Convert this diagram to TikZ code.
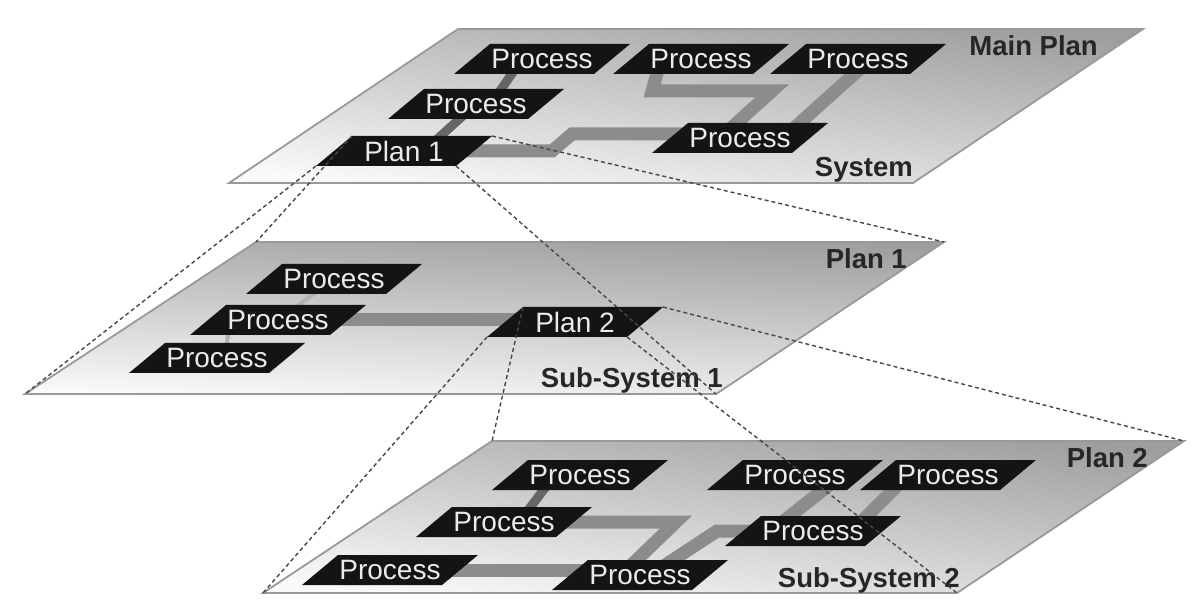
\documentclass[tikz,border=0pt]{standalone}
\usepackage{fontspec}
\setmainfont{Liberation Sans}
\usetikzlibrary{calc}
\pgfdeclarelayer{planes}
\pgfdeclarelayer{bars}
\pgfsetlayers{planes,bars,main}

\tikzset{
  plane/.style={draw=black!40, line width=1.8pt, line join=miter,
    top color=black!38, bottom color=black!2},
  bar/.style={draw=black!45, line width=13pt, line join=miter},
  link/.style={draw=black!60, line width=9pt},
  thinlink/.style={draw=black!30, line width=4pt},
  blk/.style={fill=black!92},
  blktext/.style={text=black!8, font=\fontsize{28}{30}\selectfont, inner sep=0pt},
  lvl/.style={text=black!85, font=\fontsize{27.5}{30}\selectfont\bfseries, inner sep=0pt},
  proj/.style={draw=black!72, line width=1.4pt, dash pattern=on 4pt off 3pt},
}

% a black slanted box with its label; corners are kept as named coordinates
\newcommand\procbox[4]{%
  \coordinate (#1tl) at ({#2-52},{#3-15});
  \coordinate (#1tr) at ({#2+88},{#3-15});
  \coordinate (#1br) at ({#2+52},{#3+15});
  \coordinate (#1bl) at ({#2-88},{#3+15});
  \fill[blk] (#1bl) -- (#1br) -- (#1tr) -- (#1tl) -- cycle;
  \node[blktext] (#1) at (#2,#3) {#4};
}

\begin{document}
\begin{tikzpicture}[x=1pt,y=-1pt]
\useasboundingbox (0,0) rectangle (1203,612);

% ---- the three planes
\begin{pgfonlayer}{planes}
  \fill[white] (0,0) rectangle (1203,612);
  \coordinate (Ptl) at (458,29);  \coordinate (Ptr) at (1143,29);
  \coordinate (Pbr) at (913,183); \coordinate (Pbl) at (229,183);
  \path[plane, shading angle=-7] (Ptl) -- (Ptr) -- (Pbr) -- (Pbl) -- cycle;
  \coordinate (Mtl) at (256,242); \coordinate (Mtr) at (944,242);
  \coordinate (Mbr) at (716,394); \coordinate (Mbl) at (25,394);
  \path[plane, shading angle=-3] (Mtl) -- (Mtr) -- (Mbr) -- (Mbl) -- cycle;
  \coordinate (Btl) at (492,441); \coordinate (Btr) at (1184,441);
  \coordinate (Bbr) at (957,593); \coordinate (Bbl) at (263,593);
  \path[plane, shading angle=-7] (Btl) -- (Btr) -- (Bbr) -- (Bbl) -- cycle;
\end{pgfonlayer}

% ---- system
\procbox{T1}{542}{59}{Process}
\procbox{T2}{701}{59}{Process}
\procbox{T3}{858}{59}{Process}
\procbox{T4}{476}{104}{Process}
\procbox{T5}{404}{151}{Plan 1}
\procbox{T6}{740}{138}{Process}
\node[lvl, anchor=base east] (mainplan) at (1098,56) {Main Plan};
\node[lvl, anchor=base east] (system) at (913,177) {System};

% ---- sub-system 1
\procbox{M1}{334}{279}{Process}
\procbox{M2}{278}{320}{Process}
\procbox{M3}{217}{358}{Process}
\procbox{M4}{575}{322}{Plan 2}
\node[lvl, anchor=base east] (plan1) at (907,269) {Plan 1};
\node[lvl, anchor=base east] (subsys1) at (723,388) {Sub-System 1};

% ---- sub-system 2
\procbox{B1}{580}{475}{Process}
\procbox{B2}{504}{522}{Process}
\procbox{B3}{390}{570}{Process}
\procbox{B4}{640}{575}{Process}
\procbox{B5}{795}{475}{Process}
\procbox{B6}{948}{475}{Process}
\procbox{B7}{813}{531}{Process}
\node[lvl, anchor=base east] (plan2) at (1148,467) {Plan 2};
\node[lvl, anchor=base east] (subsys2) at (960,587) {Sub-System 2};

% ---- flows between the boxes
\begin{pgfonlayer}{bars}
  \draw[link] ([xshift=-20pt]T1.center) -- ([xshift=15pt]T4.center);
  \draw[link] (T4.center) -- ([xshift=20pt]T5.center);
  \coordinate (a1) at (552,150);
  \coordinate (a2) at (572,134);
  \draw[bar] (T5.center) -- (T5.center -| a1) -- (a2) -- (a2 -| T6.center);
  \coordinate (b1) at (652,91);
  \coordinate (b2) at (772,91);
  \draw[bar] ([xshift=-40pt]T2.center) -- (b1) -- (b2) -- ([xshift=-20pt]T6.center);
  \draw[bar] ([xshift=13pt]T3.center) -- ([xshift=43pt]T6.center);

  \draw[thinlink] (M1.center) -- (M2.center);
  \draw[thinlink] ([xshift=-48pt]M2.center) -- ([xshift=8pt]M3.center);
  \draw[bar] (M2.center) -- (M2.center -| M4.center);

  \draw[link] ([xshift=-25pt]B1.center) -- ([xshift=15pt]B2.center);
  \coordinate (c1) at (676,522);
  \draw[bar] (B2.center) -- (c1) -- ([xshift=-19pt]B4.center);
  \draw[bar] (B3.center) -- (B3.center -| B4.center);
  \coordinate (c2) at (717,531);
  \draw[bar] (B7.center) -- (c2) -- ([xshift=10pt]B4.center);
  \draw[bar] ([xshift=47pt]B5.center) -- ([xshift=-42pt]B7.center);
  \draw[bar] ([xshift=-40pt]B6.center) -- ([xshift=39pt]B7.center);
\end{pgfonlayer}

% ---- projection of each plan box onto the plane below
\draw[proj] (T5bl) -- (Mbl);
\draw[proj] (T5tl) -- (Mtl);
\draw[proj] (T5tr) -- (Mtr);
\draw[proj] (T5br) -- (Mbr);
\draw[proj] (M4bl) -- (Bbl);
\draw[proj] (M4tl) -- (Btl);
\draw[proj] (M4tr) -- (Btr);
\draw[proj] (M4br) -- (Bbr);
\end{tikzpicture}
\end{document}
